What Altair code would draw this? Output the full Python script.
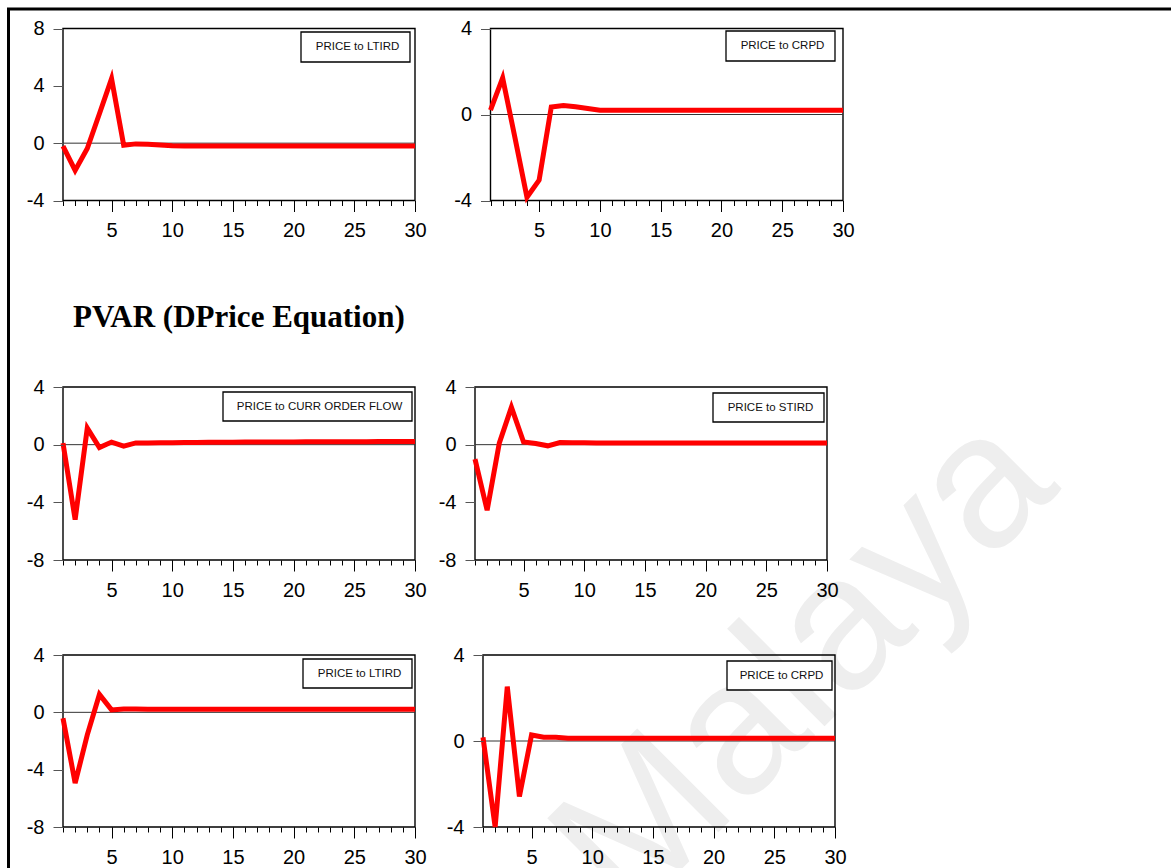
import altair as alt
import pandas as pd

# ---------------- data ----------------
periods = list(range(1, 31))

ltird_top = [-0.2, -1.9, -0.37, 2.05, 4.5, -0.15, -0.05, -0.08, -0.13, -0.18,
             -0.2, -0.2, -0.2, -0.2, -0.2, -0.2, -0.2, -0.2, -0.2, -0.2,
             -0.2, -0.2, -0.2, -0.2, -0.2, -0.2, -0.2, -0.2, -0.2, -0.2]
crpd_top = [0.2, 1.7, -1.05, -3.85, -3.05, 0.35, 0.42, 0.36, 0.28, 0.2,
            0.2, 0.2, 0.2, 0.2, 0.2, 0.2, 0.2, 0.2, 0.2, 0.2,
            0.2, 0.2, 0.2, 0.2, 0.2, 0.2, 0.2, 0.2, 0.2, 0.2]
curr_order_flow = [0.1, -5.2, 1.15, -0.2, 0.18, -0.1, 0.12, 0.12, 0.13, 0.14,
                   0.15, 0.15, 0.16, 0.17, 0.17, 0.18, 0.18, 0.19, 0.19, 0.19,
                   0.2, 0.2, 0.2, 0.21, 0.21, 0.21, 0.22, 0.22, 0.22, 0.22]
stird = [-1.0, -4.55, 0.1, 2.6, 0.18, 0.08, -0.08, 0.15, 0.14, 0.13,
         0.12, 0.12, 0.12, 0.12, 0.12, 0.12, 0.12, 0.12, 0.12, 0.12,
         0.12, 0.12, 0.12, 0.12, 0.12, 0.12, 0.12, 0.12, 0.12, 0.12]
ltird_bot = [-0.41, -4.94, -1.57, 1.25, 0.17, 0.24, 0.23, 0.22, 0.22, 0.22,
             0.22, 0.22, 0.22, 0.22, 0.22, 0.22, 0.22, 0.22, 0.22, 0.22,
             0.22, 0.22, 0.22, 0.22, 0.22, 0.22, 0.22, 0.22, 0.22, 0.22]
crpd_bot = [0.17, -4.0, 2.53, -2.58, 0.28, 0.18, 0.17, 0.13, 0.13, 0.13,
            0.13, 0.13, 0.13, 0.13, 0.13, 0.13, 0.13, 0.13, 0.13, 0.13,
            0.13, 0.13, 0.13, 0.13, 0.13, 0.13, 0.13, 0.13, 0.13, 0.13]

labels = ["PRICE to LTIRD", "PRICE to CRPD", "PRICE to CURR ORDER FLOW",
          "PRICE to STIRD", "PRICE to LTIRD", "PRICE to CRPD"]
series = [ltird_top, crpd_top, curr_order_flow, stird, ltird_bot, crpd_bot]
y_domains = [[-4, 8], [-4, 4], [-8, 4], [-8, 4], [-8, 4], [-4, 4]]
y_ticks = [[-4, 0, 4, 8], [-4, 0, 4], [-8, -4, 0, 4], [-8, -4, 0, 4],
           [-8, -4, 0, 4], [-4, 0, 4]]
major_ticks = [5, 10, 15, 20, 25, 30]
title_text = "PVAR (DPrice Equation)"
watermark = "Malaya"

# ---------------- layout (pixels) ----------------
W, H = 1171, 868
x_ranges = [[63, 415], [490.5, 843], [63, 415], [475, 827], [63, 415], [483, 835]]
y_ranges = [[200.5, 28.5], [200.5, 28.5], [560, 387], [560, 387], [827, 655], [827, 655]]
boxes = [[301, 410, 32, 62], [726, 835, 31, 61], [223, 412, 392, 421],
         [713, 824, 393, 422], [303, 412, 659, 688], [727, 832, 661, 690]]

hyphen_label = "datum.value < 0 ? '-' + abs(datum.value) : '' + datum.value"

one = pd.DataFrame({"k": [0]})
layers = []

layers.append(
    alt.Chart(one).mark_text(font="Liberation Sans", fontSize=190, color="#eeeeee",
                             angle=315, align="center", baseline="middle")
    .encode(x=alt.value(805), y=alt.value(665), text=alt.value(watermark))
)

for i in range(6):
    xr, yr, dom = x_ranges[i], y_ranges[i], y_domains[i]
    xs = alt.Scale(domain=[1, 30], range=xr, nice=False, zero=False)
    ys = alt.Scale(domain=dom, range=yr, nice=False, zero=False)
    off_x = yr[0] - H
    off_y = -xr[0]

    frame_df = pd.DataFrame({"x1": [1], "x2": [30], "y1": [dom[0]], "y2": [dom[1]]})
    frame = alt.Chart(frame_df).mark_rect(fillOpacity=0, stroke="black", strokeWidth=1.4).encode(
        x=alt.X("x1:Q", scale=xs,
                axis=alt.Axis(orient="bottom", offset=off_x, values=periods, tickSize=5,
                              labels=False, domain=False, grid=False, title="",
                              tickColor="black", tickWidth=1, zindex=2)),
        x2="x2:Q",
        y=alt.Y("y1:Q", scale=ys,
                axis=alt.Axis(orient="left", offset=off_y, values=y_ticks[i], tickSize=10,
                              labelPadding=9, labelFontSize=20, labelFlush=False,
                              labelOverlap=False, labelExpr=hyphen_label,
                              domain=False, grid=False, title="",
                              tickColor="#555555", tickWidth=1, zindex=2)),
        y2="y2:Q",
    )

    zero_df = pd.DataFrame({"x1": [1], "x2": [30], "y": [0]})
    zero = alt.Chart(zero_df).mark_rule(color="#333333", strokeWidth=1).encode(
        x=alt.X("x1:Q", scale=xs, axis=None),
        x2="x2:Q",
        y=alt.Y("y:Q", scale=ys, axis=None),
    )

    df = pd.DataFrame({"period": periods, "response": series[i]})
    line = alt.Chart(df).mark_line(color="#ff0000", strokeWidth=5).encode(
        x=alt.X("period:Q", scale=xs,
                axis=alt.Axis(orient="bottom", offset=off_x, values=major_ticks, tickSize=11,
                              labelFontSize=20, labelPadding=9, labelFlush=False,
                              labelOverlap=False, domain=False, grid=False, title="",
                              tickColor="black", tickWidth=1, zindex=2)),
        y=alt.Y("response:Q", scale=ys, axis=None),
    )

    b = boxes[i]
    box = alt.Chart(one).mark_rect(fill="white", stroke="black", strokeWidth=1.3).encode(
        x=alt.value(b[0]), x2=alt.value(b[1]), y=alt.value(b[2]), y2=alt.value(b[3])
    )
    txt = alt.Chart(one).mark_text(font="Liberation Sans", fontSize=11.5, color="#111111",
                                   align="center", baseline="middle").encode(
        x=alt.value((b[0] + b[1]) / 2 + 2), y=alt.value((b[2] + b[3]) / 2),
        text=alt.value(labels[i])
    )
    layers += [frame, zero, line, box, txt]

layers.append(
    alt.Chart(one).mark_text(font="Liberation Serif", fontSize=31, fontWeight="bold",
                             color="black", align="left", baseline="alphabetic")
    .encode(x=alt.value(73), y=alt.value(327), text=alt.value(title_text))
)
layers.append(
    alt.Chart(one).mark_rule(color="black", strokeWidth=3)
    .encode(x=alt.value(7), x2=alt.value(W), y=alt.value(9))
)
layers.append(
    alt.Chart(one).mark_rule(color="black", strokeWidth=3)
    .encode(x=alt.value(8.5), y=alt.value(8), y2=alt.value(H))
)

chart = (
    alt.layer(*layers)
    .resolve_scale(x="independent", y="independent")
    .properties(width=W, height=H, padding=0, background="white",
                autosize=alt.AutoSizeParams(type="none"))
    .configure_view(strokeWidth=0)
    .configure_axis(labelFont="Liberation Sans", labelColor="black")
)

chart.save("out.html", embed_options={"renderer": "svg", "actions": False})
